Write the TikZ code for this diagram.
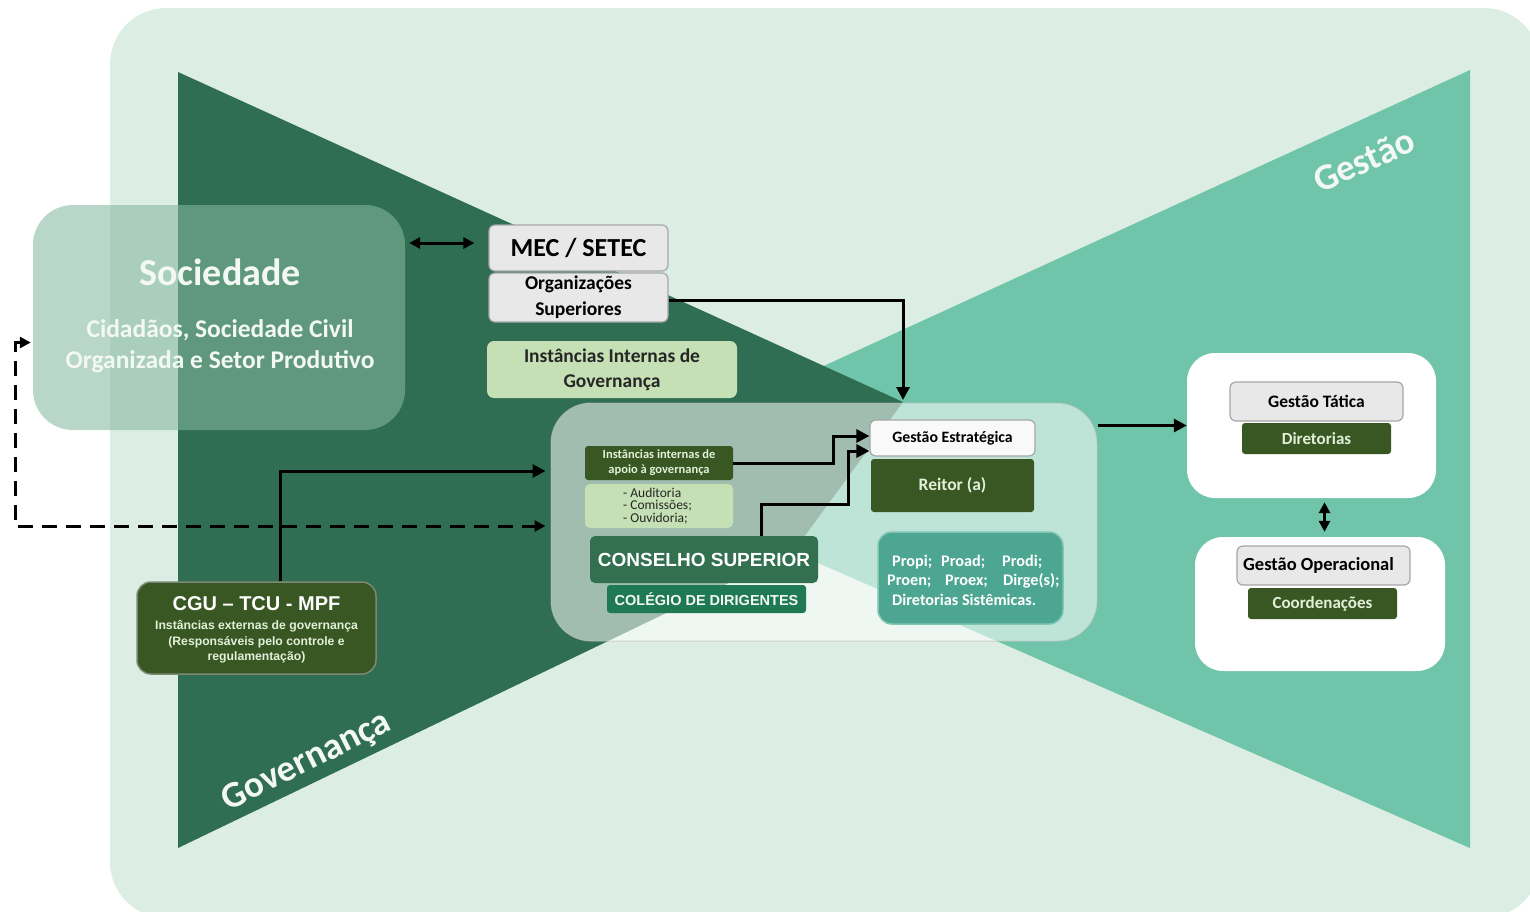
\documentclass[tikz,border=0pt]{standalone}
\usepackage{fontspec}
\setmainfont{Carlito}
\newfontfamily\arialf{Liberation Sans}
\usetikzlibrary{arrows.meta,calc}
\definecolor{bgG}{HTML}{DCEEE4}
\definecolor{darkG}{HTML}{2F6E52}
\definecolor{tealG}{HTML}{6FC4A9}
\definecolor{socG}{HTML}{84B99E}
\definecolor{oliveG}{HTML}{385723}
\definecolor{lightG}{HTML}{C5E0B4}
\definecolor{boxGrey}{HTML}{E8E8E8}
\definecolor{boxLine}{HTML}{A6A6A6}
\definecolor{consG}{HTML}{32704F}
\definecolor{colG}{HTML}{1F7A53}
\definecolor{propiG}{HTML}{4CA692}
\definecolor{propiLine}{HTML}{80C4B3}
\definecolor{paleTxt}{HTML}{F3F8F5}
\definecolor{oliveTxt}{HTML}{E2F0D9}
\newcommand{\fsz}[2]{\fontsize{#1}{#2}\selectfont}
\tikzset{
  greybox/.style={fill=boxGrey, draw=boxLine, line width=1.2pt, rounded corners=6pt, inner sep=0pt, align=center, text=black},
  olivebox/.style={fill=oliveG, rounded corners=3pt, inner sep=0pt, align=center, text=oliveTxt},
  whitebox/.style={fill=white, rounded corners=28pt, inner sep=0pt},
  conn/.style={line width=3pt, -{Triangle[length=13pt,width=13pt]}},
  dblconn/.style={line width=3pt, {Triangle[length=11pt,width=11pt]}-{Triangle[length=11pt,width=11pt]}},
  dashconn/.style={line width=3pt, dash pattern=on 15pt off 9pt, {Triangle[length=11pt,width=11pt]}-{Triangle[length=11pt,width=11pt]}},
  bigword/.style={text=paleTxt, font=\fsz{37}{40}\bfseries, inner sep=0pt}
}
\begin{document}
\begin{tikzpicture}[x=1pt,y=-1pt]
\useasboundingbox (0,0) rectangle (1530,911);
% background
\fill[bgG, rounded corners=56pt] (110,8) rectangle (1540,918);
% triangles
\fill[tealG] (1470,70) -- (780,386) -- (793,552) -- (1470,848) -- cycle;
\fill[darkG] (178,72) -- (903,402) -- (793,552) -- (178,848) -- cycle;
\node[bigword, rotate=24] (gestao) at (1364,160) {Gestão};
\node[bigword, rotate=26.5] (gov) at (307,762) {Governança};
% Sociedade
\node[fill=socG, fill opacity=0.57, rounded corners=40pt, minimum width=372pt, minimum height=225pt, inner sep=0pt] (soc) at (219,317.5) {};
\node[text=paleTxt, font=\fsz{38}{44}\bfseries, inner sep=0pt] (soct) at (220,272) {Sociedade};
\node[text=paleTxt, font=\fsz{25.5}{31}\bfseries, align=center, inner sep=0pt] (socs) at (220,346) {Cidadãos, Sociedade Civil\\Organizada e Setor Produtivo};
% MEC
\node[greybox, minimum width=179pt, minimum height=46pt, font=\fsz{26}{30}\bfseries] (mec) at (578.5,248) {MEC / SETEC};
\node[greybox, minimum width=179pt, minimum height=49pt, font=\fsz{19.5}{26}\bfseries] (org) at (578.5,297.5) {Organizações\\Superiores};
\node[fill=lightG, rounded corners=7pt, minimum width=250pt, minimum height=57pt, inner sep=0pt, align=center, font=\fsz{19.5}{25}\bfseries, text=black!85] (iig) at (612,369.5) {Instâncias Internas de\\Governança};
% centre box
\node[fill=white, fill opacity=0.55, draw=black!25, draw opacity=0.6, line width=1pt, rounded corners=40pt, minimum width=546pt, minimum height=238pt, inner sep=0pt] (cbox) at (824,522) {};
\node[olivebox, minimum width=148pt, minimum height=34pt, font=\fsz{12.5}{15}\bfseries] (apoio) at (659,463) {Instâncias internas de\\apoio à governança};
\node[fill=lightG, rounded corners=5pt, minimum width=148pt, minimum height=44pt, inner sep=0pt] (lista) at (659,506) {};
\node[anchor=west, align=left, inner sep=0pt, font=\fsz{13.5}{12.5}, text=black!85] (listat) at (623,506) {- Auditoria\\- Comissões;\\- Ouvidoria;};
\node[fill=consG, rounded corners=5pt, minimum width=228pt, minimum height=47pt, inner sep=0pt, text=white, font=\arialf\bfseries\fsz{19}{22}] (cons) at (704,559.5) {CONSELHO SUPERIOR};
\node[fill=colG, rounded corners=3pt, minimum width=199pt, minimum height=28pt, inner sep=0pt, text=paleTxt, font=\arialf\bfseries\fsz{14.5}{16}] (coleg) at (706.5,599) {COLÉGIO DE DIRIGENTES};
\node[greybox, fill=white!95!gray, minimum width=165pt, minimum height=36pt, font=\fsz{15.8}{18}\bfseries] (ge) at (952.5,438) {Gestão Estratégica};
\node[olivebox, minimum width=163pt, minimum height=53pt, font=\fsz{17.5}{20}\bfseries] (reitor) at (952.5,485.5) {Reitor (a)};
\node[fill=propiG, draw=propiLine, line width=1.5pt, rounded corners=14pt, minimum width=185pt, minimum height=92pt, inner sep=0pt] (propi) at (970.5,578) {};
\node[anchor=west, align=left, inner sep=0pt, text=white, font=\fsz{16.2}{19.5}\bfseries] (propit) at (887,580) {\hspace{5pt}\makebox[49pt][l]{Propi;}\makebox[61pt][l]{Proad;}Prodi;\\\makebox[58pt][l]{Proen;}\makebox[58pt][l]{Proex;}Dirge(s);\\\hspace{5pt}Diretorias Sistêmicas.};
% right side
\node[whitebox, minimum width=249pt, minimum height=145pt] (tat) at (1311.5,425.5) {};
\node[greybox, minimum width=173pt, minimum height=39pt, font=\fsz{17.5}{20}\bfseries] (gt) at (1316.5,401.5) {Gestão Tática};
\node[olivebox, minimum width=149pt, minimum height=31pt, font=\fsz{17}{18}\bfseries] (dir) at (1316.5,438.5) {Diretorias};
\node[whitebox, minimum width=250pt, minimum height=134pt] (op) at (1320,604) {};
\node[greybox, minimum width=173pt, minimum height=39pt, font=\fsz{18.5}{20}\bfseries] (go) at (1323.5,565.5) {Gestão Operacional\hspace{10pt}};
\node[olivebox, minimum width=149pt, minimum height=31pt, font=\fsz{17}{18}\bfseries] (coord) at (1322.5,603.5) {Coordenações};
% CGU
\node[fill=oliveG, draw=black!35!oliveG!60!white, line width=1.5pt, rounded corners=14pt, minimum width=239pt, minimum height=92pt, inner sep=0pt] (cgu) at (256.5,628) {};
\node[inner sep=0pt, text=white, font=\arialf\bfseries\fsz{20}{24}] (cgut) at (256.5,604) {CGU – TCU - MPF};
\node[inner sep=0pt, align=center, text=oliveTxt, font=\arialf\bfseries\fsz{12.2}{15.5}] (cgus) at (256.5,642) {Instâncias externas de governança\\(Responsáveis pelo controle e\\regulamentação)};
% connectors
\coordinate (c1) at (903,400);
\coordinate (dcorner) at (15,526);
\draw[dblconn] ($(soc.east |- mec.west)+(4,-5)$) -- ($(mec.west)+(-14,-5)$);
\draw[conn] ($(org.east)+(0,3)$) -| (c1);
\draw[conn] (apoio.east) -- ++(100,0) |- ($(ge.west)+(0,-2)$);
\draw[conn] ($(cons.north)+(57,0)$) -- ++(0,-31) -- ++(87,0) |- ($(ge.west)+(0,13)$);
\draw[conn] ($(cgu.north)+(24,0)$) |- ($(cbox.west)+(-5,-51)$);
\draw[dashconn] ($(soc.west)+(-2,25)$) -| (dcorner) -- ($(dcorner -| cbox.west)+(-5,0)$);
\draw[conn] (tat.west -| cbox.east) -- (tat.west);
\draw[dblconn] ($(tat.south)+(13,4)$) -- ($(tat.south |- op.north)+(13,-5)$);
\end{tikzpicture}
\end{document}
